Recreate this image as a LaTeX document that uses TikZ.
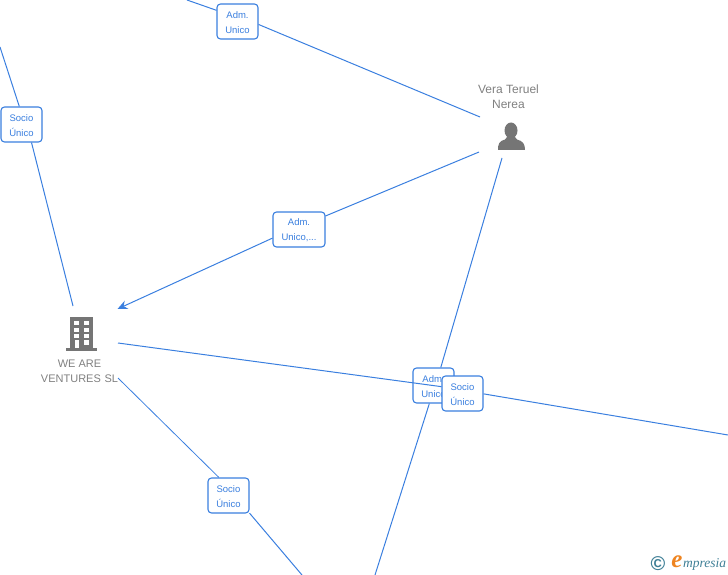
\documentclass[tikz,border=0pt]{standalone}
\usepackage{fontspec}
\setmainfont{Liberation Sans}
\newfontfamily\logofont{Liberation Serif}
\usetikzlibrary{arrows.meta}
\definecolor{linkBlue}{HTML}{3A7FDF}
\definecolor{nameGray}{HTML}{808080}
\definecolor{iconGray}{HTML}{757575}
\definecolor{logoTeal}{HTML}{3F7F96}
\definecolor{logoOrange}{HTML}{EE8420}
\newcommand*{\boxLine}[1]{\raisebox{-1pt}[\height][\depth]{#1}}
\tikzset{
  linkLine/.style={draw=linkBlue,line width=1pt},
  relBox/.style={
    draw=linkBlue,
    line width=1.1pt,
    rounded corners=3.5pt,
    fill=white,
    text=linkBlue,
    font=\fontsize{9.5}{15}\selectfont,
    align=center,
    inner sep=0pt,
    minimum height=35pt,
    minimum width=41pt
  },
  nameText/.style={
    text=nameGray,
    font=\fontsize{12}{15}\selectfont,
    align=center,
    inner sep=0pt
  }
}

\begin{document}
\begin{tikzpicture}[x=1pt,y=-1pt]
    \useasboundingbox (0,0) rectangle (728,575);

    \node [nameText] (vera) at (508.5,96.5) {Vera Teruel\\Nerea};
    \node [nameText,font=\fontsize{11}{15}\selectfont] (weare) at (79.5,371) {WE ARE\\VENTURES\,\,SL};

    % free ends
    \coordinate (topEnd) at (187,0);
    \coordinate (leftEnd) at (0,47);
    \coordinate (rightEnd) at (728,435);
    \coordinate (bottomEnd) at (375,575);
    \coordinate (cornerEnd) at (302,575);
    \coordinate (veraA) at (480,117);
    \coordinate (veraB) at (479,152);
    \coordinate (veraC) at (502,158);
    \coordinate (weareA) at (73,306);
    \coordinate (weareB) at (117.5,309);
    \coordinate (weareC) at (118,343);
    \coordinate (weareD) at (118,378);

    \node [relBox] (admTop) at (237.5,21.5) {\boxLine{Adm.}\\\boxLine{Unico}};
    \node [relBox] (socioLeft) at (21.5,124.5) {\boxLine{Socio}\\\boxLine{Único}};
    \node [relBox,minimum width=52pt] (admWe) at (299,229.5) {\boxLine{Adm.}\\\boxLine{Unico,...}};
    \node [relBox] (socioLow) at (228.5,495.5) {\boxLine{Socio}\\\boxLine{Único}};

    \draw [linkLine] (topEnd) -- (admTop.152);
    \draw [linkLine] (admTop.-8) -- (veraA);
    \draw [linkLine] (leftEnd) -- (socioLeft.97);
    \draw [linkLine] (socioLeft.-61) -- (weareA);
    \draw [linkLine] (veraB) -- (admWe.27);
    \draw [linkLine,-{Stealth[length=10pt,width=9pt]}] (admWe.198) -- (weareB);
    \draw [linkLine,line width=0.8pt] (weareD) -- (socioLow.118);
    \draw [linkLine] (socioLow.-40) -- (cornerEnd);

    % the two boxes on the crossing
    \node [relBox] (admCross) at (433.5,385.5) {\boxLine{Adm.}\\\boxLine{Unico}};
    \draw [linkLine] (veraC) -- (admCross.68);
    \draw [linkLine] (admCross.-103) -- (bottomEnd);
    \node [relBox] (socioCross) at (462.5,393.5) {\boxLine{Socio}\\\boxLine{Único}};
    \draw [linkLine] (weareC) -- (socioCross.162);
    \draw [linkLine] (socioCross.-1) -- (rightEnd);

    % building
    \fill [iconGray] (70,317) rectangle (93,348);
    \fill [iconGray] (66,348) rectangle (97,350.5);
    \foreach \i in {321,327.5,334} {
        \fill [white] (74,\i) rectangle (79,\i+4);
        \fill [white] (83.5,\i) rectangle (88.5,\i+4);
    }
    \fill [white] (74.5,340) rectangle (79,348);
    \fill [white] (83.5,340) rectangle (88.5,345);

    % person
    \fill [iconGray] (511,130.5) ellipse (6.5 and 8);
    \fill [iconGray] (498,150) .. controls (498,144) and (499,141) .. (505,139.5)
        -- (507,137) -- (515,137) -- (517,139.5) .. controls (523,141) and (525,144) .. (525,150) -- cycle;

    % logo
    \node [text=logoTeal,inner sep=0pt,font=\fontsize{20}{20}\bfseries\selectfont] (copy) at (658,564) {©};
    \node [text=logoOrange,inner sep=0pt,font=\logofont\fontsize{25}{25}\itshape\bfseries\selectfont] (logoE) at (677,562) {e};
    \node [text=logoTeal,inner sep=0pt,anchor=west,font=\logofont\fontsize{13.5}{13.5}\itshape\selectfont] (logoName) at (683,564.5) {mpresia};
\end{tikzpicture}
\end{document}
